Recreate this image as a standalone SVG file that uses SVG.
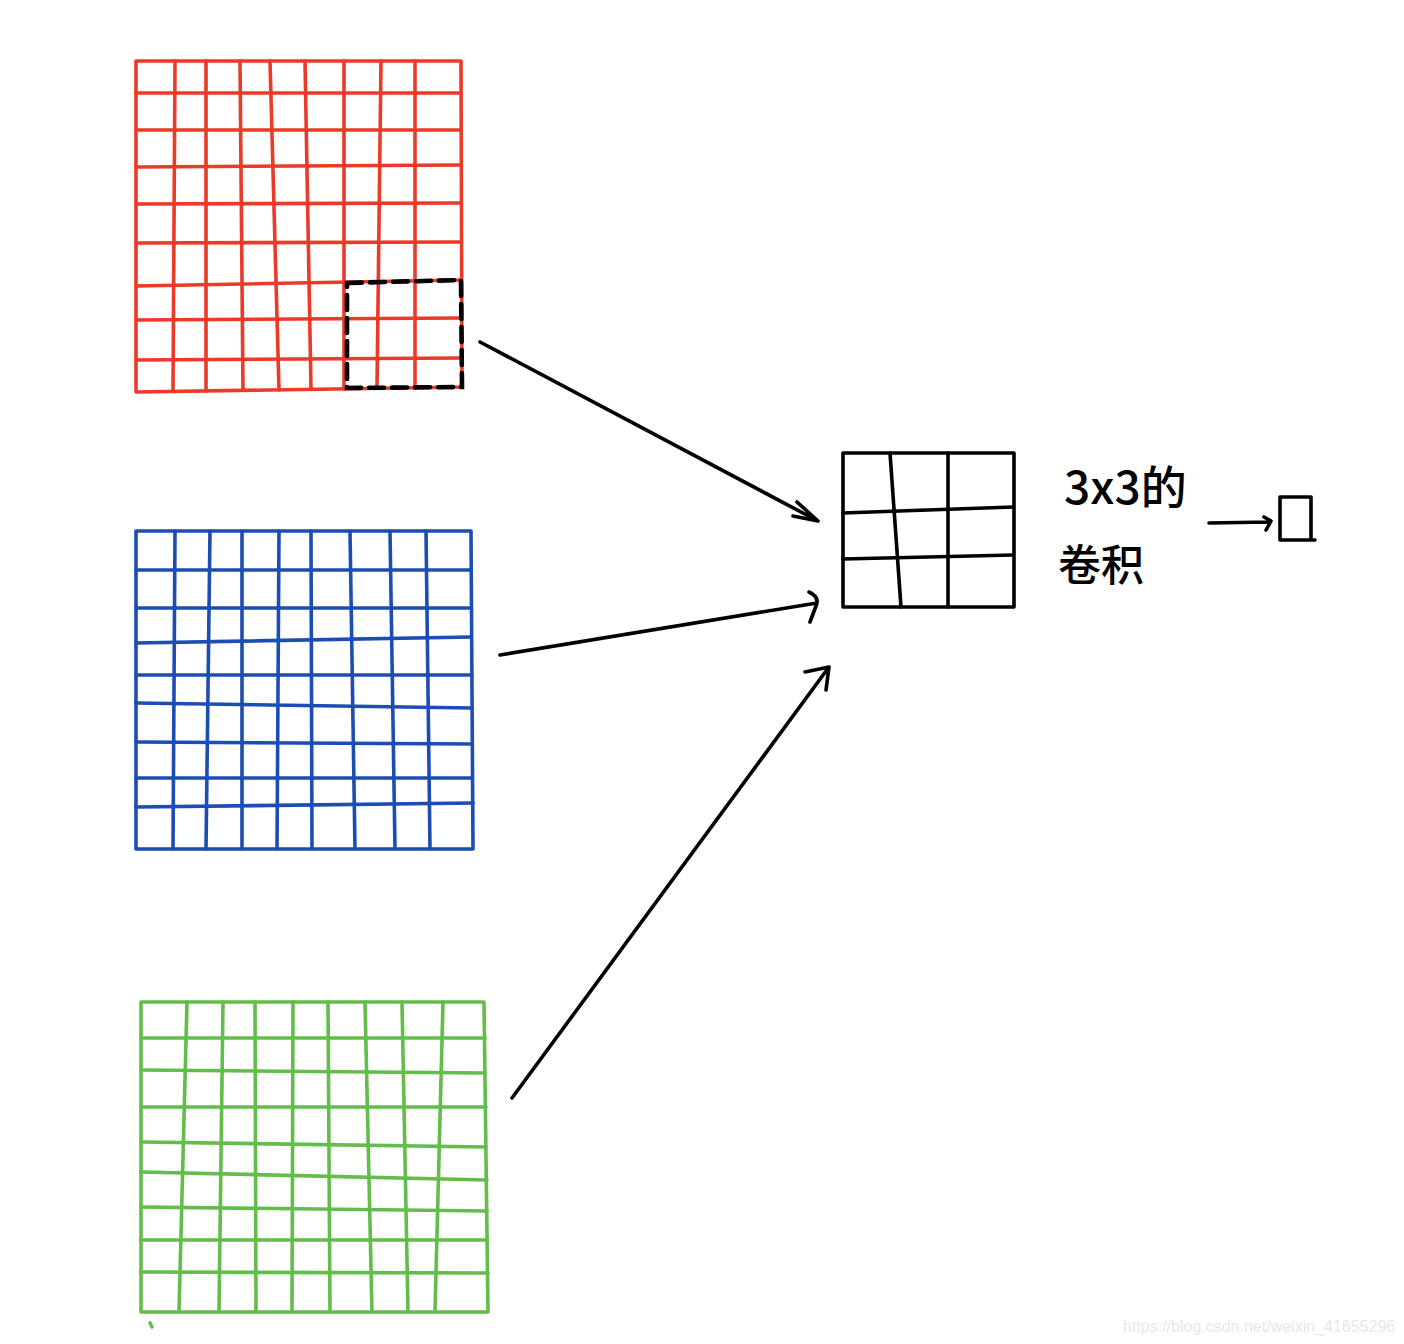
<svg xmlns="http://www.w3.org/2000/svg" width="1404" height="1344" viewBox="0 0 1404 1344">
<style>
.r{stroke:#ec3a29;stroke-width:3.6;fill:none;stroke-linecap:round;stroke-linejoin:round}
.b{stroke:#1b4db4;stroke-width:3.6;fill:none;stroke-linecap:round;stroke-linejoin:round}
.g{stroke:#63bd4a;stroke-width:3.6;fill:none;stroke-linecap:round;stroke-linejoin:round}
.k{stroke:#000;stroke-width:3.6;fill:none;stroke-linecap:round;stroke-linejoin:round}
.t{font-family:"Noto Sans CJK SC","Liberation Sans",sans-serif;fill:#000;font-weight:500}
</style>
<rect width="1404" height="1344" fill="#fff"/>
<g id="red-grid" class="r">
<path d="M136,61 L461,61 L462,387 L136,392 Z"/>
<path d="M175,61 L173,391 M206,61 L206,391 M240,61 L243,390 M270,61 L279,390 M305,61 L311,389 M344,61 L344,389 M381,61 L377,388 M415,61 L415,388"/>
<path d="M136,93 L461,93 M136,130 L461,130 M136,167 L461,165 M136,204 L461,203 M136,243 L461,242 M136,286 L461,280 M136,320 L461,318 M136,360 L461,358"/>
</g>
<g id="window">
<path d="M347,283 L461,280 L462,387 L347,388 Z" fill="none" stroke="#000" stroke-width="4.6" stroke-dasharray="15 8" stroke-linecap="round"/>
</g>
<g id="blue-grid" class="b">
<path d="M136,531 L471,531 L473,849 L136,849 Z"/>
<path d="M175,531 L173,849 M210,531 L206,849 M242,531 L242,849 M279,531 L277,849 M311,531 L312,849 M350,531 L355,849 M390,531 L395,849 M426,531 L430,849"/>
<path d="M136,570 L471,570 M136,608 L471,608 M136,643 L471,637 M136,675 L472,675 M136,703 L472,708 M136,742 L472,744 M136,778 L472,778 M136,807 L473,803"/>
</g>
<g id="green-grid" class="g">
<path d="M141,1002 L484,1002 L488,1312 L141,1312 Z"/>
<path d="M187,1002 L179,1312 M223,1002 L219,1312 M255,1002 L256,1312 M293,1002 L292,1312 M328,1002 L330,1312 M365,1002 L372,1312 M402,1002 L408,1312 M443,1002 L435,1312"/>
<path d="M141,1038 L485,1038 M141,1070 L485,1073 M141,1107 L486,1107 M141,1142 L486,1147 M141,1172 L487,1180 M141,1207 L487,1211 M141,1240 L487,1240 M141,1272 L488,1273"/>
<path d="M150,1323 L152,1327"/>
</g>
<g id="kernel" class="k">
<path d="M843,453 L1014,453 L1014,607 L843,607 Z"/>
<path d="M890,453 L901,607 M948,453 L948,607"/>
<path d="M843,513 L1013,507 M843,559 L1013,555"/>
</g>
<g id="label">
<text class="t" x="1064" y="504" font-size="46">3x3的</text>
<text class="t" x="1058" y="581" font-size="43">卷积</text>
</g>
<g id="output">
<path class="k" d="M1280,497 L1311,497 L1311,540 L1280,540 Z M1311,540 L1315,540"/>
</g>
<g id="connectors" class="k">
<path d="M480,342 L818,521 M797,502 L818,521 L793,516"/>
<path d="M500,655 L817,603 M809,592 Q820,597 816,606 L810,622"/>
<path d="M512,1098 L829,667 M805,672 L829,667 L826,690"/>
<path d="M1209,523 L1269,522 M1264,517 L1271,521 L1266,530"/>
</g>
<text x="1123" y="1332" font-family="Liberation Sans, Arial, sans-serif" font-size="16" fill="#e8e8e8">https://blog.csdn.net/weixin_41655296</text>
</svg>
